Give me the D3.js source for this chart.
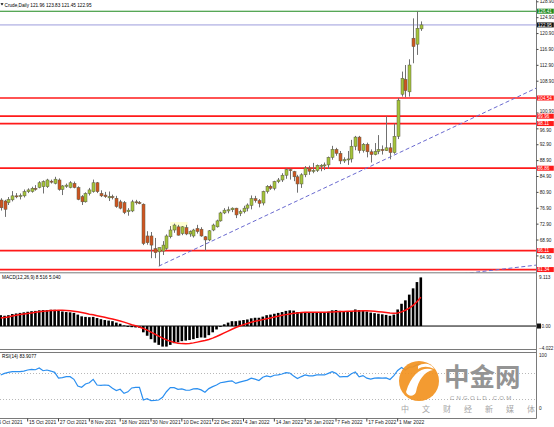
<!DOCTYPE html>
<html><head><meta charset="utf-8">
<script src="https://cdn.jsdelivr.net/npm/d3@7"></script>
<style>html,body{margin:0;padding:0;background:#fff;overflow:hidden}svg{display:block;font-family:"Liberation Sans",Arial,sans-serif}</style>
</head><body>
<svg id="c" width="554" height="427"></svg>
<script>
// ---------------- DATA ----------------
const openP = [78.85,78.6,78.2,78.9,79.9,79.8,79.9,80.95,81.0,81.8,
82.0,82.2,82.2,83.6,83.05,83.9,81.5,82.3,82.0,83.05,
82.0,79.7,78.4,80.5,80.95,83.2,80.5,80.1,79.4,79.7,
79.3,78.4,78.2,75.9,76.1,78.4,78.2,77.8,69.8,69.8,
66.6,65.8,66.0,66.7,69.6,71.3,72.1,70.4,71.9,70.3,
69.8,71.7,71.5,69.6,68.8,71.3,72.1,73.6,75.6,76.1,
76.4,76.8,75.5,75.9,76.8,77.5,79.2,78.7,78.1,81.0,
82.3,81.8,83.5,83.9,85.1,86.5,86.0,84.7,82.9,85.2,
86.9,86.1,86.3,87.6,87.6,87.7,89.6,91.6,90.6,88.7,
89.0,89.2,92.4,94.7,91.3,92.9,91.0,90.3,91.1,91.6,
91.3,92.0,90.8,94.9,105.5,109.25,106.1,119.6,118.1,121.96];
const highP = [79.3,78.9,79.6,81.1,80.6,80.5,81.5,81.8,82.2,82.6,
83.6,83.8,84.2,84.0,84.7,84.3,82.6,83.0,83.6,83.5,
82.3,80.1,80.8,81.9,84.0,83.4,81.3,80.9,81.0,80.2,
79.9,78.9,78.6,76.8,78.9,78.9,78.6,78.0,71.0,70.8,
69.3,66.9,68.5,70.2,72.3,72.9,72.6,72.3,72.6,71.2,
71.6,72.6,72.0,69.8,71.3,72.9,73.9,75.9,76.8,77.2,
77.0,76.9,76.4,77.4,78.0,80.0,79.9,79.1,81.2,82.6,
82.7,83.7,84.4,85.6,86.86,86.8,86.2,85.2,85.6,87.4,
87.5,88.2,87.8,87.9,88.3,89.8,92.5,92.0,91.2,89.6,
91.2,94.0,95.0,95.0,93.2,93.3,91.6,93.2,95.2,92.6,
99.96,93.2,98.11,104.54,111.2,112.85,114.3,124.6,126.41,123.83];
const lowP = [76.2,74.6,77.6,78.5,79.3,79.0,79.5,80.6,80.7,81.2,
81.8,80.5,81.9,83.0,82.8,81.2,80.1,81.9,81.8,81.8,
78.8,77.6,78.2,80.0,80.7,80.6,79.6,79.4,78.6,79.0,
76.9,76.5,75.3,74.9,75.8,77.7,77.8,67.5,67.6,64.2,
64.2,62.2,65.0,66.3,69.2,70.6,69.9,70.0,70.0,69.6,
69.4,70.4,69.6,66.11,68.5,71.0,71.9,73.4,75.3,75.5,
75.8,74.3,74.8,75.5,76.0,76.5,78.2,77.0,77.5,80.5,
81.4,81.3,83.1,83.4,84.2,84.0,83.6,80.7,81.9,84.6,
85.2,85.6,85.9,86.1,86.4,86.7,89.0,90.0,87.9,88.2,
87.7,88.3,91.4,90.6,90.8,89.6,88.3,90.1,90.4,90.3,
91.2,89.1,90.5,94.2,104.9,104.7,104.9,113.3,115.4,121.45];
const closeP = [76.9,76.5,79.0,79.9,79.8,79.95,80.95,81.4,81.8,81.6,
83.2,83.5,83.9,83.4,84.1,81.5,82.4,82.6,83.2,82.0,
79.0,78.4,80.5,81.4,83.2,80.95,79.9,79.7,79.7,79.6,
77.2,76.8,75.7,76.3,78.4,78.3,78.1,67.9,68.1,67.5,
65.6,66.9,67.5,69.8,71.3,72.55,70.0,72.1,70.3,70.9,
71.3,70.9,69.8,68.8,71.1,72.55,73.6,75.6,76.3,76.4,
76.8,75.1,75.9,76.8,77.6,79.2,78.7,78.0,81.0,82.3,
81.8,83.5,83.9,85.1,86.5,86.4,84.7,82.9,85.2,86.9,
86.1,86.3,87.6,87.6,87.7,89.6,91.6,90.6,88.7,89.0,
89.2,92.4,94.7,91.3,92.9,91.0,90.3,91.1,91.6,91.3,
92.0,90.8,94.9,104.0,109.5,106.4,112.85,117.5,122.1,122.95];

const macdMain = [1.9,1.8,1.9,2.1,2.2,2.3,2.4,2.5,2.6,2.65,
2.75,2.8,2.8,2.85,2.85,2.7,2.55,2.45,2.4,2.3,
2.0,1.7,1.6,1.55,1.6,1.4,1.2,1.05,0.95,0.85,
0.6,0.4,0.1,-0.15,-0.2,-0.25,-0.3,-1.1,-1.7,-2.3,
-2.9,-3.3,-3.6,-3.6,-3.3,-3.0,-2.85,-2.65,-2.55,-2.45,
-2.3,-2.1,-2.0,-2.05,-1.6,-1.1,-0.6,-0.15,0.3,0.6,
0.85,0.85,0.95,1.05,1.15,1.35,1.45,1.45,1.65,1.9,
2.0,2.15,2.3,2.45,2.65,2.75,2.7,2.45,2.4,2.45,
2.4,2.35,2.4,2.4,2.4,2.5,2.75,2.8,2.65,2.55,
2.45,2.65,2.9,2.8,2.75,2.55,2.35,2.25,2.15,2.05,
1.95,1.8,2.0,2.9,3.9,4.5,5.5,6.6,7.7,8.516];
const macdSignal = [1.4,1.5,1.6,1.75,1.9,2.0,2.1,2.2,2.3,2.4,
2.5,2.58,2.64,2.7,2.74,2.76,2.76,2.72,2.67,2.6,
2.5,2.36,2.22,2.08,1.96,1.82,1.67,1.52,1.37,1.22,
1.06,0.88,0.68,0.46,0.24,0.04,-0.16,-0.42,-0.72,-1.06,
-1.42,-1.78,-2.12,-2.42,-2.66,-2.86,-3.0,-3.08,-3.1,-3.05,
-2.95,-2.82,-2.68,-2.54,-2.36,-2.12,-1.84,-1.52,-1.2,-0.88,
-0.56,-0.26,0.0,0.24,0.46,0.66,0.84,0.98,1.12,1.27,
1.42,1.57,1.72,1.87,2.0,2.12,2.22,2.3,2.35,2.4,
2.42,2.43,2.43,2.43,2.43,2.44,2.47,2.51,2.54,2.56,
2.57,2.59,2.62,2.65,2.67,2.66,2.63,2.58,2.52,2.45,
2.38,2.3,2.24,2.3,2.48,2.76,3.14,3.62,4.25,5.04];
const rsiValues = [67,69.5,71,72,72,72,73,74.6,75.5,75,
77.7,73.5,74.6,73,71,62,63,64.3,64.3,60.3,
50,48,53,55,60.3,51.5,51,51.5,51,46.4,
43,45,38.7,41,47,48,48,28.5,30.5,27.4,
27.8,28.5,32.6,41.2,47.4,47.4,44.9,45.5,43.8,43.5,
45.5,46,44,40.5,46,49,51.5,55,56,57,
58,54,56,57.5,59,62,60.5,58.5,63.5,65.5,
64,66.5,67,68.5,70.5,70,65.5,61.5,64.5,67,
65.5,65.5,67,67,67,69.5,72,69.5,64,64.5,
64.5,69,71.5,64,66,62,60.5,62,62.5,62,
62.5,60,66,74,78.5,74.5,79,79.5,82.5,83.9077];

const dateLabelIdx = [-1,7,15,23,31,39,47,55,63,71,79,87,95,103];
const dateLabels = ["5 Oct 2021","15 Oct 2021","27 Oct 2021","8 Nov 2021","18 Nov 2021","30 Nov 2021","10 Dec 2021","22 Dec 2021","4 Jan 2022","14 Jan 2022","26 Jan 2022","7 Feb 2022","17 Feb 2022","1 Mar 2022"];
const priceTicks = [128.9,124.9,120.9,116.9,112.9,108.9,104.9,100.9,96.9,92.9,88.9,84.9,80.9,76.9,72.9,68.9,64.9,60.9];
const levelPrices = [104.54,99.96,98.11,86.86,66.11,61.34];
const highLinePrice = 126.41;
const bidPrice = 122.95;
const trendIdx = [41,139.3], trendPrice = [62.2,107.2];
const trend2Idx = [120,139.3], trend2Price = [60.3,62.5];
const rsiLevels = [70,30];
const macdAxisLabels = [9.113,-4.022];
const headerText = "Crude,Daily 121.96 123.83 121.45 122.95";
const macdHeader = "MACD(12,26,9) 8.516 5.040";
const rsiHeader = "RSI(14) 83.9077";
const sloganChars = ["中","文","财","经","新","媒","体"];

// ---------------- LAYOUT ----------------
const AX = 536.5;
const N = closeP.length;
const svg = d3.select("#c");
const x = d3.scaleLinear().domain([0, 109]).range([0.7, 420.8]);
const y = d3.scaleLinear().domain([60.9, 128.9]).range([271.3, 1.3]);
const yM = d3.scaleLinear().domain([-4.022, 9.113]).range([349, 274]);
const yR = d3.scaleLinear().domain([0, 100]).range([418.5, 353.5]);
const FS = 4.7;

const defs = svg.append("defs");
defs.append("clipPath").attr("id","cm").append("rect").attr("x",0).attr("y",0).attr("width",AX).attr("height",272.5);
defs.append("clipPath").attr("id","cd").append("rect").attr("x",0).attr("y",273.5).attr("width",AX).attr("height",76);
defs.append("clipPath").attr("id","cr").append("rect").attr("x",0).attr("y",353).attr("width",AX).attr("height",66);

// ---------------- MAIN PANEL ----------------
const gm = svg.append("g").attr("clip-path","url(#cm)");
gm.append("rect").attr("x",x(44)).attr("y",y(73.3)).attr("width",x(48.5)-x(44)).attr("height",y(71.2)-y(73.3)).attr("fill","#ffffd2");

gm.selectAll("line.lvl").data(levelPrices).enter().append("line")
  .attr("x1",0).attr("x2",AX).attr("y1",d=>y(d)).attr("y2",d=>y(d))
  .attr("stroke","#ff1a1a").attr("stroke-width",1.7);
gm.append("line").attr("x1",0).attr("x2",AX).attr("y1",y(highLinePrice)).attr("y2",y(highLinePrice)).attr("stroke","#1f8a1f").attr("stroke-width",1.1);
gm.append("line").attr("x1",0).attr("x2",AX).attr("y1",y(bidPrice)).attr("y2",y(bidPrice)).attr("stroke","#9c9cdc").attr("stroke-width",1);

const tl = (ix, pr) => gm.append("line").attr("x1",x(ix[0])).attr("y1",y(pr[0])).attr("x2",x(ix[1])).attr("y2",y(pr[1]))
  .attr("stroke","#6a6ad0").attr("stroke-width",1).attr("stroke-dasharray","4,2.5");
tl(trendIdx, trendPrice);
tl(trend2Idx, trend2Price);

const idx = d3.range(N);
gm.selectAll("line.wick").data(idx).enter().append("line")
  .attr("x1",i=>Math.round(x(i))+0.5).attr("x2",i=>Math.round(x(i))+0.5)
  .attr("y1",i=>y(highP[i])).attr("y2",i=>y(lowP[i]))
  .attr("stroke","#707070").attr("stroke-width",1);
gm.selectAll("rect.body").data(idx).enter().append("rect")
  .attr("x",i=>Math.round(x(i))-1)
  .attr("width",3)
  .attr("y",i=>y(Math.max(openP[i],closeP[i])))
  .attr("height",i=>Math.max(1,Math.abs(y(openP[i])-y(closeP[i]))))
  .attr("fill",i=>closeP[i]>=openP[i]?"#a4c43a":"#cf5420")
  .attr("stroke","#5c5c46").attr("stroke-width",0.5);

svg.append("path").attr("d","M0.5,3.2 L3.5,3.2 L2,5.4 Z").attr("fill","#000");
svg.append("text").attr("x",4.5).attr("y",6.6).attr("font-size",4.7).attr("fill","#000").text(headerText);

// ---------------- MACD ----------------
const gd = svg.append("g").attr("clip-path","url(#cd)");
gd.selectAll("rect.h").data(idx).enter().append("rect")
  .attr("x",i=>x(i)-1.3).attr("width",2.6)
  .attr("y",i=>Math.min(yM(macdMain[i]),yM(0)))
  .attr("height",i=>Math.abs(yM(macdMain[i])-yM(0)))
  .attr("fill","#000");
gd.append("line").attr("x1",0).attr("x2",AX).attr("y1",yM(0)).attr("y2",yM(0)).attr("stroke","#000").attr("stroke-width",1);
gd.append("path").datum(idx).attr("fill","none").attr("stroke","#ff1010").attr("stroke-width",1.5)
  .attr("d",d3.line().x(i=>x(i)).y(i=>yM(macdSignal[i])));
svg.append("text").attr("x",2).attr("y",279).attr("font-size",4.7).attr("fill","#000").text(macdHeader);

// ---------------- RSI ----------------
const gr = svg.append("g").attr("clip-path","url(#cr)");
gr.selectAll("line.lv").data(rsiLevels).enter().append("line")
  .attr("x1",0).attr("x2",AX).attr("y1",d=>Math.round(yR(d))+0.5).attr("y2",d=>Math.round(yR(d))+0.5)
  .attr("stroke","#b8b8b8").attr("stroke-width",1).attr("stroke-dasharray","1,2");
gr.append("path").datum(idx).attr("fill","none").attr("stroke","#2b8ff0").attr("stroke-width",1.2)
  .attr("d",d3.line().x(i=>x(i)).y(i=>yR(rsiValues[i])));
svg.append("text").attr("x",2).attr("y",358).attr("font-size",4.7).attr("fill","#000").text(rsiHeader);

// ---------------- FRAMES ----------------
const frame = [[0,AX,272.8,272.8],[0,AX,349.5,349.5],[0,AX,352.5,352.5],[0,AX,418.5,418.5]];
svg.selectAll("line.fr").data(frame).enter().append("line")
  .attr("x1",d=>d[0]).attr("x2",d=>d[1]).attr("y1",d=>d[2]).attr("y2",d=>d[3])
  .attr("stroke","#7a7a7a").attr("stroke-width",1);
svg.append("line").attr("x1",AX).attr("x2",AX).attr("y1",0).attr("y2",418.5).attr("stroke","#7a7a7a").attr("stroke-width",1);

// price axis
const tagPrices = levelPrices.concat([highLinePrice, bidPrice]);
const visibleTicks = priceTicks.filter(t => !tagPrices.some(p => Math.abs(y(p)-y(t)) < 3.2));
const pa = svg.append("g").attr("transform",`translate(${AX},0)`)
  .call(d3.axisRight(y).tickValues(visibleTicks).tickSize(2).tickPadding(1.2).tickFormat(d3.format(".2f")));
pa.select(".domain").remove();
pa.selectAll("line").attr("stroke","#444");
pa.selectAll("text").attr("font-size",FS).attr("fill","#222").attr("font-family","Liberation Sans, Arial, sans-serif")
  .attr("y", t => {
    const near = tagPrices.find(p => Math.abs(y(p)-y(t)) < 5.5);
    return near === undefined ? 0 : (y(t) < y(near) ? -1.3 : 1.3);
  });

const tag = (p, col) => {
  const g = svg.append("g");
  g.append("rect").attr("x",AX+0.5).attr("y",y(p)-2.5).attr("width",16.8).attr("height",5).attr("fill",col);
  g.append("text").attr("x",AX+1.3).attr("y",y(p)+1.65).attr("font-size",4.6).attr("fill","#fff").text(p.toFixed(2));
};
levelPrices.forEach(p=>tag(p,"#ff1a1a"));
tag(highLinePrice,"#1f8a1f");
tag(bidPrice,"#111");

svg.selectAll("text.ml").data(macdAxisLabels).enter().append("text")
  .attr("x",AX+2.5).attr("y",(d,i)=>i===0?yM(d)+4.5:yM(d)+0.5).attr("font-size",FS).attr("fill","#222")
  .text(d=>d3.format(".3f")(d));
svg.append("rect").attr("x",AX+0.5).attr("y",yM(0)-2.5).attr("width",4).attr("height",5).attr("fill","#111");
svg.append("text").attr("x",AX+5).attr("y",yM(0)+1.7).attr("font-size",FS).attr("fill","#222").text("0.00");

svg.append("text").attr("x",AX+2.5).attr("y",yR(100)+3.5).attr("font-size",FS).attr("fill","#222").text("100");
svg.append("text").attr("x",AX+2.5).attr("y",yR(0)-9).attr("font-size",FS).attr("fill","#222").text("0");

const da = svg.append("g").attr("transform","translate(0,418.5)")
  .call(d3.axisBottom(x).tickValues(dateLabelIdx).tickSize(3).tickPadding(0).tickFormat((d,i)=>dateLabels[i]));
da.select(".domain").remove();
da.selectAll("line").attr("stroke","#444").attr("transform","translate(-0.5,0)");
da.selectAll("text").attr("text-anchor","start").attr("x",0.8).attr("y",1.6)
  .attr("font-size",5).attr("fill","#222").attr("font-family","Liberation Sans, Arial, sans-serif");

// ---------------- WATERMARK ----------------
const wm = svg.append("g").attr("opacity",0.92);
wm.append("circle").attr("cx",419).attr("cy",381).attr("r",20).attr("fill","#f39320");
wm.append("path").attr("d","M406,392 C412,372 424,366 433,370 C425,371 418,380 416,392 C414,397 408,397 406,392 Z").attr("fill","#fff");
wm.append("path").attr("d","M418,366 C424,362 432,364 434,369 C428,366 423,366 418,369 Z").attr("fill","#fff");
wm.append("text").attr("x",444).attr("y",386).attr("font-size",25.5).attr("font-weight","bold")
  .attr("font-family","Noto Sans CJK SC, sans-serif").attr("fill","#8c8c8c").text("中金网");
wm.append("text").attr("x",450).attr("y",400).attr("font-size",6).attr("letter-spacing",2.2)
  .attr("font-family","Liberation Sans, Arial, sans-serif").attr("fill","#9a9a9a").text("CNGOLD.COM");
wm.selectAll("text.sl").data(sloganChars).enter().append("text")
  .attr("x",(d,i)=>401+i*21).attr("y",412).attr("font-size",8)
  .attr("font-family","Noto Sans CJK SC, sans-serif").attr("fill","#a0a0a0").text(d=>d);
</script>
</body></html>
